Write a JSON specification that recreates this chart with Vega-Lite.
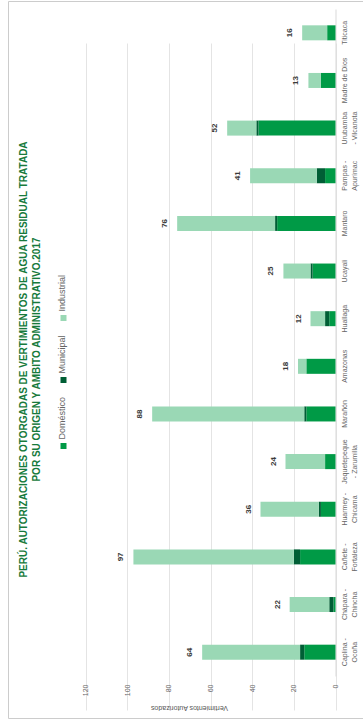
{
  "$schema": "https://vega.github.io/schema/vega-lite/v6.json",
  "width": 355,
  "height": 717,
  "autosize": {"type": "none"},
  "padding": {"left": 8, "top": 1, "right": 0, "bottom": 5},
  "background": "white",
  "config": {
    "view": {"stroke": "#cccccc", "strokeWidth": 1},
    "font": "Liberation Sans"
  },
  "title": {
    "text": ["PERÚ. AUTORIZACIONES OTORGADAS DE VERTIMIENTOS DE AGUA RESIDUAL TRATADA", "POR SU ORIGEN Y AMBITO ADMINISTRATIVO.2017"],
    "orient": "left",
    "anchor": "middle",
    "frame": "group",
    "offset": -34,
    "font": "Liberation Sans",
    "fontSize": 10,
    "fontWeight": "bold",
    "color": "#177a3c",
    "lineHeight": 13
  },
  "data": {
    "values": [
      {"cuenca": "Caplina - Ocoña", "serie": "Doméstico", "valor": 15},
      {"cuenca": "Caplina - Ocoña", "serie": "Municipal", "valor": 2},
      {"cuenca": "Caplina - Ocoña", "serie": "Industrial", "valor": 47},
      {"cuenca": "Chápara - Chincha", "serie": "Doméstico", "valor": 1},
      {"cuenca": "Chápara - Chincha", "serie": "Municipal", "valor": 2},
      {"cuenca": "Chápara - Chincha", "serie": "Industrial", "valor": 19},
      {"cuenca": "Cañete - Fortaleza", "serie": "Doméstico", "valor": 17},
      {"cuenca": "Cañete - Fortaleza", "serie": "Municipal", "valor": 3},
      {"cuenca": "Cañete - Fortaleza", "serie": "Industrial", "valor": 77},
      {"cuenca": "Huarmey - Chicama", "serie": "Doméstico", "valor": 7},
      {"cuenca": "Huarmey - Chicama", "serie": "Municipal", "valor": 1},
      {"cuenca": "Huarmey - Chicama", "serie": "Industrial", "valor": 28},
      {"cuenca": "Jequetepeque - Zarumilla", "serie": "Doméstico", "valor": 5},
      {"cuenca": "Jequetepeque - Zarumilla", "serie": "Industrial", "valor": 19},
      {"cuenca": "Marañón", "serie": "Doméstico", "valor": 14},
      {"cuenca": "Marañón", "serie": "Municipal", "valor": 1},
      {"cuenca": "Marañón", "serie": "Industrial", "valor": 73},
      {"cuenca": "Amazonas", "serie": "Doméstico", "valor": 14},
      {"cuenca": "Amazonas", "serie": "Industrial", "valor": 4},
      {"cuenca": "Huallaga", "serie": "Doméstico", "valor": 3},
      {"cuenca": "Huallaga", "serie": "Municipal", "valor": 2},
      {"cuenca": "Huallaga", "serie": "Industrial", "valor": 7},
      {"cuenca": "Ucayali", "serie": "Doméstico", "valor": 11},
      {"cuenca": "Ucayali", "serie": "Municipal", "valor": 1},
      {"cuenca": "Ucayali", "serie": "Industrial", "valor": 13},
      {"cuenca": "Mantaro", "serie": "Doméstico", "valor": 28},
      {"cuenca": "Mantaro", "serie": "Municipal", "valor": 1},
      {"cuenca": "Mantaro", "serie": "Industrial", "valor": 47},
      {"cuenca": "Pampas - Apurímac", "serie": "Doméstico", "valor": 5},
      {"cuenca": "Pampas - Apurímac", "serie": "Municipal", "valor": 4},
      {"cuenca": "Pampas - Apurímac", "serie": "Industrial", "valor": 32},
      {"cuenca": "Urubamba - Vilcanota", "serie": "Doméstico", "valor": 37},
      {"cuenca": "Urubamba - Vilcanota", "serie": "Municipal", "valor": 1},
      {"cuenca": "Urubamba - Vilcanota", "serie": "Industrial", "valor": 14},
      {"cuenca": "Madre de Dios", "serie": "Doméstico", "valor": 7},
      {"cuenca": "Madre de Dios", "serie": "Industrial", "valor": 6},
      {"cuenca": "Titicaca", "serie": "Doméstico", "valor": 4},
      {"cuenca": "Titicaca", "serie": "Industrial", "valor": 12}
    ]
  },
  "layer": [
    {
      "transform": [
        {"calculate": "indexof(['Doméstico','Municipal','Industrial'], datum.serie)", "as": "orden"}
      ],
      "mark": {"type": "bar"},
      "encoding": {
        "y": {
          "field": "cuenca",
          "type": "nominal",
          "scale": {
            "domain": ["Titicaca", "Madre de Dios", "Urubamba - Vilcanota", "Pampas - Apurímac", "Mantaro", "Ucayali", "Huallaga", "Amazonas", "Marañón", "Jequetepeque - Zarumilla", "Huarmey - Chicama", "Cañete - Fortaleza", "Chápara - Chincha", "Caplina - Ocoña"],
            "range": [8, 675],
            "paddingInner": 0.685,
            "paddingOuter": 0.3425
          },
          "axis": {
            "orient": "right",
            "offset": -27.5,
            "title": null,
            "ticks": false,
            "domain": true,
            "domainColor": "#d9d9d9",
            "grid": false,
            "labelAngle": 270,
            "labelAlign": "center",
            "labelBaseline": "top",
            "labelPadding": 5,
            "labelFontSize": 7,
            "labelColor": "#666666",
            "labelLineHeight": 10,
            "labelLimit": 200,
            "labelExpr": "indexof(datum.value, ' - ') < 0 ? datum.value : ((datum.value == 'Jequetepeque - Zarumilla' || datum.value == 'Urubamba - Vilcanota') ? [split(datum.value, ' - ')[0], '- ' + split(datum.value, ' - ')[1]] : [split(datum.value, ' - ')[0] + ' -', split(datum.value, ' - ')[1]])"
          }
        },
        "x": {
          "field": "valor",
          "type": "quantitative",
          "stack": "zero",
          "scale": {"domain": [0, 120], "range": [327.5, 77.5], "nice": false},
          "axis": {
            "title": "Vertimientos Autorizados",
            "titleAngle": 180,
            "titleFontSize": 7,
            "titleFontWeight": "normal",
            "titleColor": "#555555",
            "titleAlign": "center",
            "titleBaseline": "middle",
            "titleX": 181,
            "titleY": 27,
            "offset": -38,
            "domain": false,
            "ticks": false,
            "values": [0, 20, 40, 60, 80, 100, 120],
            "labelAngle": 270,
            "labelAlign": "right",
            "labelBaseline": "middle",
            "labelPadding": 4,
            "labelFontSize": 7,
            "labelColor": "#666666",
            "grid": true,
            "gridColor": "#e4e4e4",
            "gridWidth": 1
          }
        },
        "color": {
          "field": "serie",
          "type": "nominal",
          "scale": {
            "domain": ["Industrial", "Municipal", "Doméstico"],
            "range": ["#9ad8b5", "#005e35", "#009a46"]
          },
          "legend": {
            "title": null,
            "orient": "none",
            "legendX": 51,
            "legendY": 312.5,
            "direction": "vertical",
            "symbolType": "square",
            "symbolSize": 36,
            "symbolStrokeWidth": 0,
            "labelFontSize": 9,
            "labelColor": "#666666",
            "rowPadding": 13,
            "encode": {
              "labels": {
                "update": {
                  "angle": {"value": 270},
                  "align": {"value": "left"},
                  "baseline": {"value": "middle"},
                  "x": {"value": 3},
                  "y": {"value": -2}
                }
              }
            }
          }
        },
        "order": {"field": "orden", "type": "quantitative"}
      }
    },
    {
      "transform": [
        {"aggregate": [{"op": "sum", "field": "valor", "as": "total"}], "groupby": ["cuenca"]}
      ],
      "mark": {
        "type": "text",
        "angle": 270,
        "align": "center",
        "baseline": "middle",
        "dy": -12,
        "fontSize": 8,
        "fontWeight": "bold",
        "color": "#3a3a3a"
      },
      "encoding": {
        "y": {"field": "cuenca", "type": "nominal"},
        "x": {"field": "total", "type": "quantitative", "title": "Vertimientos Autorizados"},
        "text": {"field": "total", "type": "quantitative"}
      }
    }
  ]
}
